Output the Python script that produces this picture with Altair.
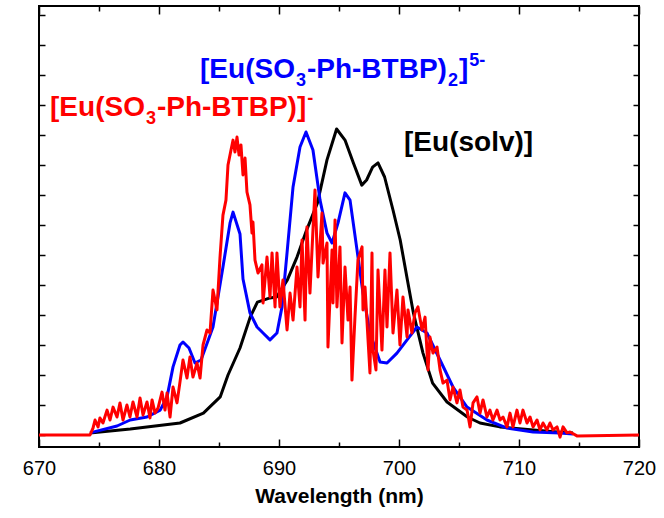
import altair as alt
import pandas as pd

# ---------------- data ----------------
black_wl = [674.25, 677.6, 681.75, 683.7, 685.1, 685.75, 686.75, 687.6, 688.2, 689.25,
            689.8, 690.7, 691.5, 692.3, 693.2, 694.0, 694.8, 695.5, 696.2, 696.9,
            697.3, 697.8, 698.25, 698.8, 699.5, 700.1, 700.7, 701.2, 702.0, 702.8,
            704.0, 705.7, 706.75, 708.4, 711.2, 713.2, 714.5]
black_int = [0.007, 0.02, 0.04, 0.073, 0.127, 0.2, 0.29, 0.393, 0.443, 0.457,
             0.46, 0.517, 0.593, 0.683, 0.773, 0.917, 1.02, 0.983, 0.907, 0.833,
             0.85, 0.893, 0.907, 0.86, 0.75, 0.65, 0.517, 0.407, 0.273, 0.173,
             0.11, 0.06, 0.04, 0.027, 0.017, 0.01, 0.007]

blue_wl = [674.25, 676.5, 677.6, 679.0, 680.1, 680.67, 681.17, 681.75, 682.0, 682.5,
           683.0, 683.5, 684.5, 685.33, 685.92, 686.17, 686.75, 687.0, 687.58, 688.17,
           688.67, 689.25, 689.83, 690.25, 690.67, 691.17, 691.75, 692.25, 692.83, 693.42,
           694.0, 694.42, 694.92, 695.5, 695.92, 696.5, 697.0, 697.58, 698.42, 699.0,
           699.83, 700.67, 701.5, 702.33, 703.42, 704.5, 705.67, 707.33, 709.0, 711.17,
           713.42, 714.5]
blue_int = [0.007, 0.03, 0.05, 0.06, 0.083, 0.127, 0.227, 0.30, 0.31, 0.29,
            0.24, 0.25, 0.36, 0.56, 0.707, 0.743, 0.67, 0.52, 0.407, 0.36,
            0.34, 0.317, 0.34, 0.427, 0.607, 0.827, 0.96, 1.01, 0.95, 0.783,
            0.673, 0.64, 0.707, 0.807, 0.783, 0.617, 0.473, 0.34, 0.243, 0.24,
            0.273, 0.317, 0.36, 0.34, 0.25, 0.16, 0.093, 0.05, 0.023, 0.01,
            0.007, 0.003]

red_wl = [670.00, 674.25, 674.50, 674.67, 674.92, 675.08, 675.33, 675.67, 675.92, 676.17,
          676.50, 676.75, 677.00, 677.33, 677.58, 677.83, 678.17, 678.42, 678.67, 679.00,
          679.25, 679.42, 679.67, 679.92, 680.25, 680.50, 680.67, 680.92, 681.17, 681.50,
          681.75, 682.00, 682.33, 682.58, 682.83, 683.17, 683.42, 683.67, 684.00, 684.25,
          684.50, 684.83, 685.08, 685.33, 685.58, 685.75, 686.00, 686.17, 686.33, 686.50,
          686.67, 686.83, 687.00, 687.17, 687.33, 687.58, 687.75, 687.83, 688.00, 688.25,
          688.58, 688.67, 689.00, 689.25, 689.42, 689.67, 689.83, 690.08, 690.33, 690.67,
          690.92, 691.17, 691.50, 691.75, 691.92, 692.17, 692.33, 692.58, 692.83, 693.00,
          693.25, 693.58, 693.67, 694.00, 694.08, 694.42, 694.50, 694.67, 694.83, 695.08,
          695.25, 695.50, 695.75, 695.92, 696.08, 696.33, 696.58, 696.92, 697.00, 697.17,
          697.42, 697.58, 697.75, 697.83, 698.08, 698.25, 698.58, 698.83, 699.00, 699.25,
          699.50, 699.83, 700.08, 700.33, 700.67, 700.75, 701.08, 701.33, 701.58, 701.92,
          702.17, 702.42, 702.58, 702.83, 703.17, 703.42, 703.67, 704.00, 704.25, 704.50,
          704.83, 705.08, 705.33, 705.67, 705.92, 706.17, 706.50, 706.75, 707.00, 707.33,
          707.58, 707.83, 708.17, 708.42, 708.67, 709.00, 709.25, 709.50, 709.83, 710.08,
          710.33, 710.67, 710.92, 711.17, 711.50, 711.75, 712.00, 712.33, 712.58, 712.83,
          713.17, 713.42, 713.67, 714.00, 714.25, 714.83, 720.00]
red_int = [0.0, 0.0, 0.023, 0.05, 0.027, 0.057, 0.04, 0.083, 0.05, 0.093,
           0.06, 0.107, 0.05, 0.1, 0.06, 0.11, 0.06, 0.123, 0.067, 0.11,
           0.057, 0.117, 0.073, 0.09, 0.143, 0.083, 0.14, 0.06, 0.16, 0.107,
           0.177, 0.25, 0.19, 0.26, 0.193, 0.24, 0.19, 0.3, 0.35, 0.34,
           0.483, 0.417, 0.59, 0.733, 0.783, 0.9, 0.95, 0.983, 0.943, 0.993,
           0.933, 0.967, 0.867, 0.923, 0.81, 0.767, 0.673, 0.71, 0.583, 0.54,
           0.567, 0.44, 0.593, 0.46, 0.607, 0.427, 0.607, 0.427, 0.517, 0.35,
           0.473, 0.383, 0.56, 0.427, 0.65, 0.383, 0.693, 0.473, 0.683, 0.817,
           0.527, 0.74, 0.573, 0.64, 0.293, 0.617, 0.44, 0.717, 0.427, 0.627,
           0.307, 0.56, 0.383, 0.493, 0.183, 0.393, 0.583, 0.627, 0.417, 0.493,
           0.317, 0.207, 0.607, 0.283, 0.217, 0.55, 0.283, 0.55, 0.36, 0.607,
           0.34, 0.483, 0.3, 0.46, 0.327, 0.417, 0.34, 0.407, 0.427, 0.35,
           0.393, 0.217, 0.327, 0.273, 0.293, 0.217, 0.173, 0.183, 0.117, 0.16,
           0.107, 0.15, 0.093, 0.083, 0.027, 0.107, 0.127, 0.073, 0.117, 0.06,
           0.083, 0.05, 0.083, 0.05, 0.06, 0.027, 0.073, 0.027, 0.083, 0.04,
           0.083, 0.04, 0.06, 0.027, 0.05, 0.017, 0.04, 0.017, 0.04, 0.017,
           0.027, -0.007, 0.027, 0.007, 0.01, -0.003, 0.0]

x_major = [670, 680, 690, 700, 710, 720]
x_minor = [675, 685, 695, 705, 715]
y_ticks = [0.0, 0.1, 0.2, 0.3, 0.4, 0.5, 0.6, 0.7, 0.8, 0.9, 1.0, 1.1, 1.2, 1.3, 1.4]

# labels: anchor (wavelength, intensity) and text pieces
red_label_pos = (670.92, 1.063)
red_label_parts = ["[Eu(SO", "3", "-Ph-BTBP)]", "-"]
red_label_kinds = ["main", "sub", "main", "sup"]
blue_label_pos = (683.42, 1.19)
blue_label_parts = ["[Eu(SO", "3", "-Ph-BTBP)", "2", "]", "5-"]
blue_label_kinds = ["main", "sub", "main", "sub", "main", "sup"]
black_label_pos = (700.42, 0.947)
black_label_parts = ["[Eu(solv)]"]
black_label_kinds = ["main"]

# ---------------- styling ----------------
FONT = "Liberation Sans"
RED, BLUE, BLACK = "#ff0000", "#0000ff", "#000000"
MAIN_SIZE, SMALL_SIZE = 28, 18
SUB_DY, SUP_DY = 8, -12
GAP = 1.0
# Arial/Liberation Sans Bold advance widths (per 1000 em)
ADV = {'[': 333, ']': 333, '(': 333, ')': 333, 'E': 667, 'u': 611, 'S': 667, 'O': 778,
       '-': 333, 'P': 667, 'h': 611, 'B': 722, 'T': 611, 's': 556, 'o': 611, 'l': 278,
       'v': 556, '2': 556, '3': 556, '5': 556}

xs = alt.Scale(domain=[670, 720], nice=False, zero=False)
ys = alt.Scale(domain=[-0.04, 1.43], nice=False, zero=False)


def tick_axis(orient, values, size):
    return alt.Axis(orient=orient, values=values, offset=-size, tickSize=size,
                    tickWidth=1.5, tickColor="black", labels=False, domain=False,
                    grid=False, title=None)


label_axis = alt.Axis(orient="bottom", values=x_major, ticks=False, domain=False,
                      grid=False, labelFont=FONT, labelFontSize=20, labelColor="black",
                      labelPadding=11, labelFlush=False, format="d",
                      title="Wavelength (nm)", titleFont=FONT, titleFontSize=21,
                      titleFontWeight="bold", titleColor="black", titlePadding=7)


def line_layer(wl, it, color, xaxis, yaxis):
    df = pd.DataFrame({"wl": wl, "it": it})
    return alt.Chart(df).mark_line(color=color, strokeWidth=3, strokeJoin="round",
                                   clip=True).encode(
        x=alt.X("wl:Q", scale=xs, axis=xaxis),
        y=alt.Y("it:Q", scale=ys, axis=yaxis),
    )


def text_layers(pos, parts, kinds, color, axes):
    out = []
    cursor = 0.0
    for i, (p, k) in enumerate(zip(parts, kinds)):
        size = MAIN_SIZE if k == "main" else SMALL_SIZE
        dy = 0 if k == "main" else (SUB_DY if k == "sub" else SUP_DY)
        df = pd.DataFrame({"wl": [pos[0]], "it": [pos[1]], "t": [p]})
        xaxis = axes[i] if i < len(axes) else None
        ch = alt.Chart(df).mark_text(align="left", baseline="alphabetic", font=FONT,
                                     fontWeight="bold", fontSize=size, color=color,
                                     dx=round(cursor, 1), dy=dy).encode(
            x=alt.X("wl:Q", scale=xs, axis=xaxis),
            y=alt.Y("it:Q", scale=ys, axis=None),
            text="t:N",
        )
        out.append(ch)
        cursor += sum(ADV[c] for c in p) * size / 1000.0 + GAP
    return out


layers = [
    line_layer(black_wl, black_int, BLACK, label_axis, tick_axis("left", y_ticks, 6)),
    line_layer(blue_wl, blue_int, BLUE, tick_axis("top", x_major, 8), tick_axis("right", y_ticks, 6)),
    line_layer(red_wl, red_int, RED, tick_axis("bottom", x_major, 8), None),
]
layers += text_layers(red_label_pos, red_label_parts, red_label_kinds, RED,
                      [tick_axis("bottom", x_minor, 5), tick_axis("top", x_minor, 5)])
layers += text_layers(blue_label_pos, blue_label_parts, blue_label_kinds, BLUE, [])
layers += text_layers(black_label_pos, black_label_parts, black_label_kinds, BLACK, [])

chart = alt.layer(*layers).resolve_axis(x="independent", y="independent").properties(
    width=600, height=441,
    autosize=alt.AutoSizeParams(type="none"),
    padding={"left": 39, "top": 6, "right": 25, "bottom": 71},
    background="white",
).configure_view(stroke="black", strokeWidth=2)

chart.save("out.html", embed_options={"renderer": "svg", "actions": False})
